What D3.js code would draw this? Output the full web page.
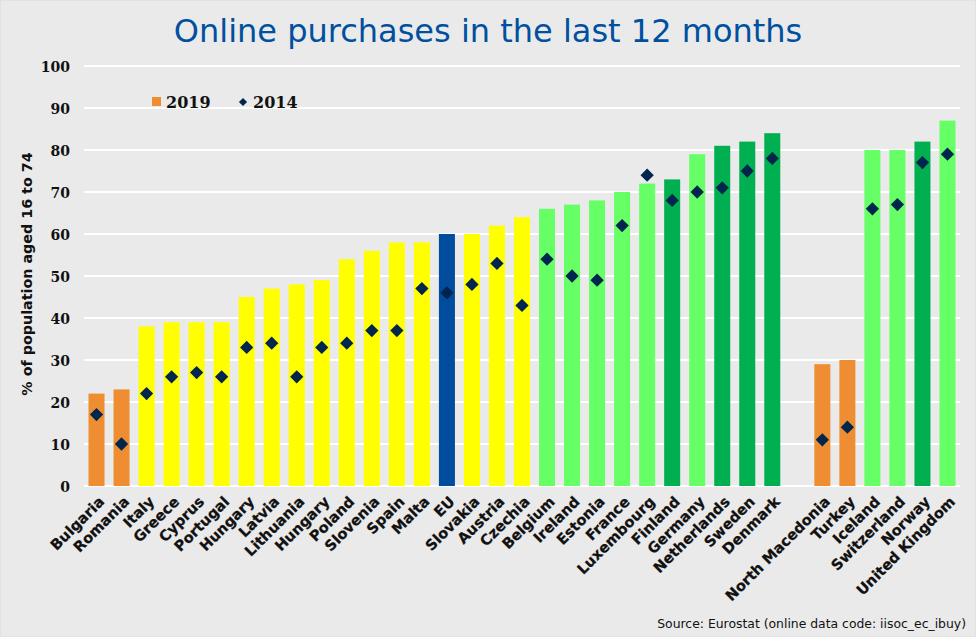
<!DOCTYPE html>
<html>
<head>
<meta charset="utf-8">
<script src="https://cdn.jsdelivr.net/npm/d3@7"></script>
<style>
  html, body { margin: 0; padding: 0; background: #EAEAEA; }
  svg { display: block; }
</style>
</head>
<body>
<svg id="chart" width="976" height="637"></svg>
<script>
// ---- data ----
const countries = ["Bulgaria","Romania","Italy","Greece","Cyprus","Portugal","Hungary","Latvia","Lithuania","Hungary","Poland","Slovenia","Spain","Malta","EU","Slovakia","Austria","Czechia","Belgium","Ireland","Estonia","France","Luxembourg","Finland","Germany","Netherlands","Sweden","Denmark","","North Macedonia","Turkey","Iceland","Switzerland","Norway","United Kingdom"];
const values2019 = [22,23,38,39,39,39,45,47,48,49,54,56,58,58,60,60,62,64,66,67,68,70,72,73,79,81,82,84,null,29,30,80,80,82,87];
const values2014 = [17,10,22,26,27,26,33,34,26,33,34,37,37,47,46,48,53,43,54,50,49,62,74,68,70,71,75,78,null,11,14,66,67,77,79];
const tiers = ["low","low","mid","mid","mid","mid","mid","mid","mid","mid","mid","mid","mid","mid","eu","mid","mid","mid","high","high","high","high","high","top","high","top","top","top",null,"low","low","high","high","top","high"];
const yTicks = [0,10,20,30,40,50,60,70,80,90,100];
const seriesNames = ["2019","2014"];
const titleText = "Online purchases in the last 12 months";
const yTitle = "% of population aged 16 to 74";
const sourceText = "Source: Eurostat (online data code: iisoc_ec_ibuy)";

// ---- chart ----
const svg = d3.select("#chart");
const W = 976, H = 637;
svg.append("rect").attr("x",0).attr("y",0).attr("width",W).attr("height",H).attr("fill","#EAEAEA");
svg.append("rect").attr("x",0.5).attr("y",0.5).attr("width",W-1).attr("height",H-1).attr("fill","none").attr("stroke","#E2E2E2");

const tierColor = d3.scaleOrdinal()
  .domain(["low","mid","eu","high","top"])
  .range(["#EF8D32","#FFFF00","#004C9E","#66FF66","#00B050"]);

const rows = countries.map((c,i) => ({key:i, name:c, v19:values2019[i], v14:values2014[i], tier:tiers[i]}));

const x = d3.scaleBand().domain(rows.map(d=>d.key)).range([84,960]).paddingInner(0.36).paddingOuter(0.18);
const y = d3.scaleLinear().domain([0,100]).range([486,66]);

// gridlines
svg.append("g").selectAll("line").data(yTicks).join("line")
  .attr("x1",84).attr("x2",960)
  .attr("y1",d=>y(d)).attr("y2",d=>y(d))
  .attr("stroke","#FFFFFF").attr("stroke-width",2.2);

// y axis labels
const yAxis = d3.axisLeft(y).tickValues(yTicks).tickSize(0).tickPadding(0);
const yg = svg.append("g").attr("transform","translate(70,0)").call(yAxis);
yg.select(".domain").remove();
yg.selectAll("text")
  .attr("font-family","'DejaVu Serif', serif").attr("font-weight","bold").attr("font-size","14px")
  .attr("fill","#111").attr("dy","0.36em");

// bars
const data = rows.filter(d=>d.v19!=null);
svg.append("g").selectAll("rect").data(data).join("rect")
  .attr("x",d=>x(d.key)).attr("width",x.bandwidth())
  .attr("y",d=>y(d.v19)).attr("height",d=>y(0)-y(d.v19))
  .attr("fill",d=>tierColor(d.tier));

// diamonds
const diamond = d3.symbol().type(d3.symbolSquare).size(88);
svg.append("g").selectAll("path").data(data).join("path")
  .attr("d",diamond)
  .attr("transform",d=>`translate(${x(d.key)+x.bandwidth()/2},${y(d.v14)}) rotate(45)`)
  .attr("fill","#00264D");

// x labels
const xg = svg.append("g");
xg.selectAll("text").data(data).join("text")
  .attr("transform",d=>`translate(${x(d.key)+x.bandwidth()/2+5},${499}) rotate(-45)`)
  .attr("text-anchor","end").attr("dy","0.35em")
  .attr("font-family","'DejaVu Sans', Verdana, sans-serif").attr("font-weight","bold").attr("font-size","14.6px")
  .attr("fill","#111").attr("stroke","#111").attr("stroke-width",0.25)
  .text(d=>d.name);

// y title
svg.append("text")
  .attr("transform","translate(32,274) rotate(-90)")
  .attr("text-anchor","middle")
  .attr("font-family","'DejaVu Sans', Verdana, sans-serif").attr("font-weight","bold").attr("font-size","14.3px")
  .attr("fill","#111").text(yTitle);

// title
svg.append("text").attr("x",488).attr("y",42).attr("text-anchor","middle")
  .attr("font-family","'DejaVu Sans', Verdana, sans-serif").attr("font-size","32px")
  .attr("fill","#0050A0").text(titleText);

// legend
const lg = svg.append("g");
lg.append("rect").attr("x",152).attr("y",97).attr("width",9).attr("height",9).attr("fill",tierColor("low"));
lg.append("text").attr("x",166).attr("y",108).text(seriesNames[0])
  .attr("font-family","'DejaVu Serif', serif").attr("font-weight","bold").attr("font-size","16px").attr("fill","#111");
lg.append("path").attr("d",d3.symbol().type(d3.symbolSquare).size(34)).attr("transform","translate(243,102) rotate(45)").attr("fill","#00264D");
lg.append("text").attr("x",253).attr("y",108).text(seriesNames[1])
  .attr("font-family","'DejaVu Serif', serif").attr("font-weight","bold").attr("font-size","16px").attr("fill","#111");

// source
svg.append("text").attr("x",966).attr("y",628).attr("text-anchor","end")
  .attr("font-family","'DejaVu Sans', Verdana, sans-serif").attr("font-size","12.4px")
  .attr("fill","#111").text(sourceText);
</script>
</body>
</html>
